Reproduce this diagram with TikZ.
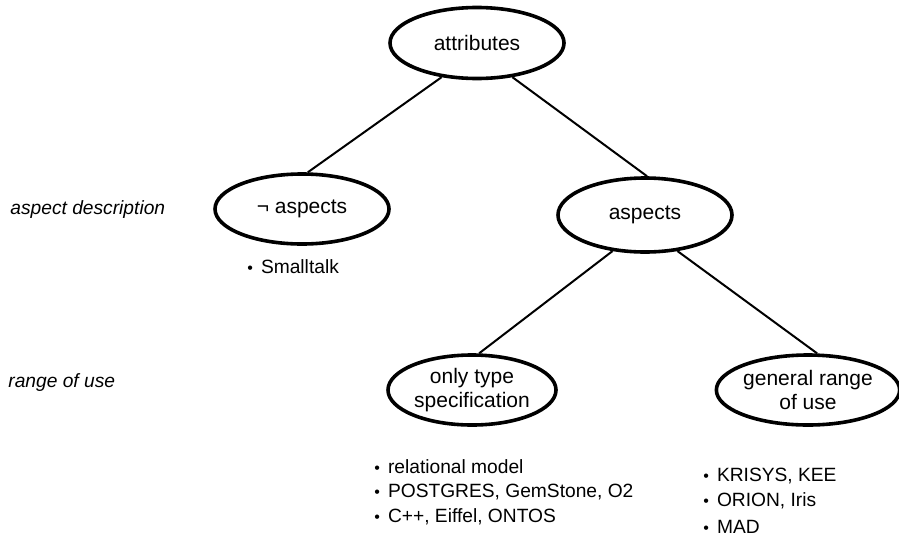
\documentclass[tikz,border=0pt]{standalone}
\usepackage{fontspec}
\setmainfont{Liberation Sans}
\usetikzlibrary{shapes.geometric}
\newcommand{\itm}[1]{{\footnotesize\textbullet}\hspace{4pt}#1}
\begin{document}
\begin{tikzpicture}[x=0.5pt, y=-0.5pt, ovalStyle/.style={ellipse, draw, line width=1.8pt, inner sep=0pt, align=center, minimum width=87pt, minimum height=35pt, font=\fontsize{10.5}{12}\selectfont}, levelStyle/.style={anchor=west, inner sep=0pt, font=\fontsize{9.6}{11}\selectfont\itshape}, itemStyle/.style={anchor=west, inner sep=0pt, font=\fontsize{9.6}{11}\selectfont}, edgeStyle/.style={line width=1pt}]
    \useasboundingbox (0, 0) rectangle (899, 536);

    \node[ovalStyle, minimum height=35.5pt] (attr)     at (477,  43) {attributes};
    \node[ovalStyle]                        (noAsp)    at (302, 209) {¬ aspects};
    \node[ovalStyle, minimum height=37pt]   (asp)      at (645, 215) {aspects};
    \node[ovalStyle, minimum width=84pt]    (typeSpec) at (472, 390) {only type\\specification};
    \node[ovalStyle, minimum width=89pt]    (genRange) at (808, 390) {general range\\of use};

    \node[levelStyle] (lvlAspect) at (10, 210) {aspect description};
    \node[levelStyle] (lvlRange)  at ( 8, 383) {range of use};

    \node[itemStyle] (smalltalk) at (247, 267) {\itm{Smalltalk}};

    \node[itemStyle] (rel)   at (374, 467) {\itm{relational model}};
    \node[itemStyle] (post)  at (374, 492) {\itm{POSTGRES, GemStone, O2}};
    \node[itemStyle] (cpp)   at (374, 517) {\itm{C++, Eiffel, ONTOS}};

    \node[itemStyle] (krisys) at (703, 476) {\itm{KRISYS, KEE}};
    \node[itemStyle] (orion)  at (703, 501) {\itm{ORION, Iris}};
    \node[itemStyle] (mad)    at (703, 527) {\itm{MAD}};

    \draw[edgeStyle] (attr.224) -- (noAsp.81);
    \draw[edgeStyle] (attr.316) -- (asp.87);

    \draw[edgeStyle] (asp.228) -- (typeSpec.79);
    \draw[edgeStyle] (asp.312) -- (genRange.76);
\end{tikzpicture}
\end{document}
